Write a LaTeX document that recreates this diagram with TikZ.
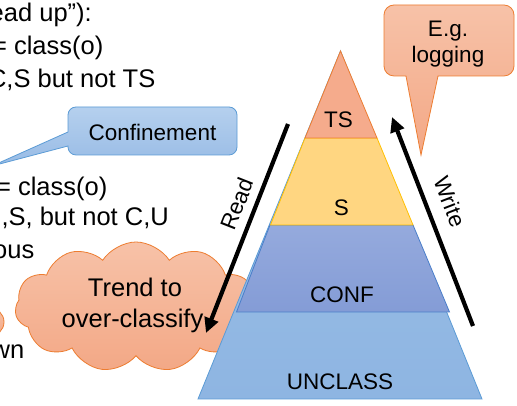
\documentclass[tikz,border=0pt]{standalone}
\usepackage{fontspec}
\setmainfont{Liberation Sans}
\usetikzlibrary{arrows.meta,shapes.symbols}
\definecolor{orangeline}{HTML}{ED7D31}
\definecolor{salmonTop}{HTML}{F7C2A8}
\definecolor{salmonBot}{HTML}{F3A886}
\definecolor{tsfill}{HTML}{F5AB8C}
\definecolor{sfill}{HTML}{FFD681}
\definecolor{goldline}{HTML}{FFC000}
\definecolor{confTop}{HTML}{95AADD}
\definecolor{confBot}{HTML}{849CD6}
\definecolor{blueline}{HTML}{4A7EC9}
\definecolor{unTop}{HTML}{9FC2E8}
\definecolor{unBot}{HTML}{8EB5E2}
\definecolor{lightline}{HTML}{5B9BD5}
\definecolor{boxTop}{HTML}{B5D0EE}
\definecolor{boxBot}{HTML}{98BBE5}
\begin{document}
\begin{tikzpicture}[x=1pt,y=1pt,
  txt/.style={font=\fontsize{22.5}{26}\selectfont, inner sep=0pt, text=black},
  bigtxt/.style={font=\fontsize{25.5}{31}\selectfont, inner sep=0pt, text=black},
  lefttxt/.style={bigtxt, anchor=base east},
  bigarrow/.style={line width=4.2pt, black, -{Triangle[length=15pt,width=14pt]}},
  salmonshape/.style={draw=orangeline, line width=0.8pt, top color=salmonTop, bottom color=salmonBot},
  layer/.style={line width=0.8pt}]
\useasboundingbox (0,0) rectangle (517,406);
\clip (0,0) rectangle (517,406);
\fill[white] (0,0) rectangle (517,406);

% left column text (cut off by the picture edge)
\node[lefttxt] (t1) at (92,384) {ead up”):};
\node[lefttxt] (t2) at (103.5,351) {= class(o)};
\node[lefttxt] (t3) at (155.5,318) {C,S but not TS};
\node[lefttxt] (t4) at (107.5,210) {= class(o)};
\node[lefttxt] (t5) at (169,180) {,S, but not C,U};
\node[lefttxt] (t6) at (34.5,147) {ous};
\node[lefttxt] (t7) at (24.5,47) {wn};

% small thought bubble at the left edge
\path[salmonshape] (-10,84) circle[radius=14];

% cloud
\node[cloud, cloud puffs=11, cloud puff arc=115, cloud ignores aspect,
      minimum width=242pt, minimum height=130pt, inner sep=0pt,
      salmonshape] (cloud) at (136,99) {};
\node[bigtxt, anchor=base] (cl1) at (135,109) {Trend to};
\node[bigtxt, anchor=base] (cl2) at (132.5,78) {over-classify};

% Confinement callout
\path[draw=lightline, line width=0.8pt, top color=boxTop, bottom color=boxBot]
  (68,260) -- (-8,240) -- (68,274) -- (68,291)
  arc[start angle=180,end angle=90,radius=8] -- (229,299)
  arc[start angle=90,end angle=0,radius=8] -- (237,259)
  arc[start angle=0,end angle=-90,radius=8] -- (76,251)
  arc[start angle=270,end angle=180,radius=8] -- cycle;
\node[txt] (conf) at (152.5,274) {Confinement};

% E.g. logging callout
\path[salmonshape]
  (406,330) -- (421,251) -- (438,330) -- (504,330)
  arc[start angle=-90,end angle=0,radius=10] -- (514,391)
  arc[start angle=0,end angle=90,radius=10] -- (394,401)
  arc[start angle=90,end angle=180,radius=10] -- (384,340)
  arc[start angle=180,end angle=270,radius=10] -- cycle;
\node[txt, anchor=base] (eg1) at (448,369) {E.g.};
\node[txt, anchor=base] (eg2) at (448,343) {logging};

% pyramid
\path[layer, draw=lightline, top color=unTop, bottom color=unBot]
  (340.5,355) -- (198,7) -- (482,7) -- cycle;
\path[layer, draw=blueline, top color=confTop, bottom color=confBot]
  (270,181) -- (236.5,94) -- (449.5,94) -- (413,181) -- cycle;
\path[layer, draw=goldline, fill=sfill]
  (305,268) -- (270.5,181) -- (413,181) -- (377,268) -- cycle;
\path[layer, draw=orangeline, fill=tsfill]
  (340.5,355) -- (305,268) -- (377,268) -- cycle;

\node[txt] (ts) at (338.5,286) {TS};
\node[txt] (s) at (341.5,198) {S};
\node[txt] (cf) at (342,111) {CONF};
\node[txt] (un) at (340,24) {UNCLASS};

% Read / Write arrows
\coordinate (rs) at (288,282);
\coordinate (re) at (206,73);
\coordinate (ws) at (473,80);
\coordinate (we) at (392,289);
\draw[bigarrow] (rs) -- (re);
\draw[bigarrow] (ws) -- (we);
\node[txt, rotate=68.6] (read) at (237,202) {Read};
\node[txt, rotate=-68.8] (write) at (450,204.5) {Write};
\end{tikzpicture}
\end{document}
